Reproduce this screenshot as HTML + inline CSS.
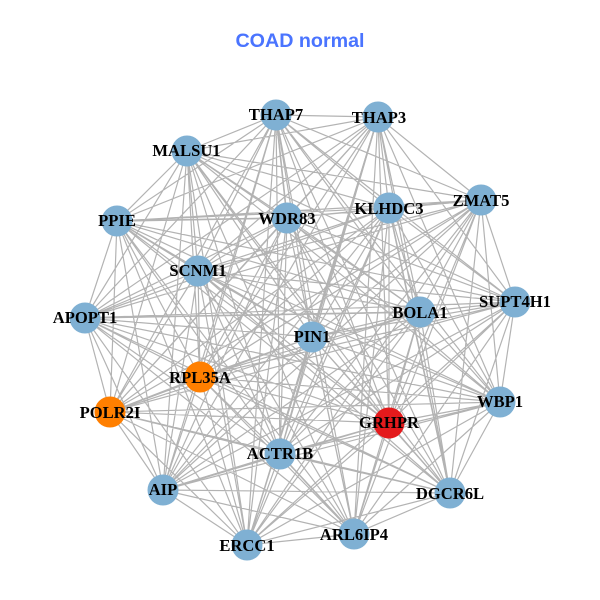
<!DOCTYPE html>
<html><head><meta charset="utf-8"><style>html,body{margin:0;padding:0;background:#fff}svg{display:block}text{font-family:"Liberation Serif",serif;font-weight:bold;font-size:16.6px;fill:#000;text-anchor:middle}</style></head><body>
<svg width="600" height="600" viewBox="0 0 600 600" xmlns="http://www.w3.org/2000/svg">
<rect width="600" height="600" fill="#fff"/>
<path fill="none" stroke="#b3b3b3" stroke-width="1.2" d="
M276 115L378 117M276 115L187 151M276 115L481 200M276 115L389 208M276 115L287 218M276 115L117 221M276 115L198 271M276 115L515 302M276 115L420 312M276 115L85 318M276 115L312 337M276 115L200 377M276 115L500 402M276 115L110 412M276 115L389 423M276 115L280 454M276 115L163 490M276 115L450 493M276 115L354 534M276 115L247 545
M378 117L187 151M378 117L481 200M378 117L389 208M378 117L287 218M378 117L117 221M378 117L198 271M378 117L515 302M378 117L420 312M378 117L85 318M378 117L312 337M378 117L200 377M378 117L500 402M378 117L110 412M378 117L389 423M378 117L280 454M378 117L163 490M378 117L450 493M378 117L354 534M378 117L247 545
M187 151L481 200M187 151L389 208M187 151L287 218M187 151L117 221M187 151L198 271M187 151L515 302M187 151L420 312M187 151L85 318M187 151L312 337M187 151L200 377M187 151L500 402M187 151L110 412M187 151L389 423M187 151L280 454M187 151L163 490M187 151L450 493M187 151L354 534M187 151L247 545
M481 200L389 208M481 200L287 218M481 200L117 221M481 200L198 271M481 200L515 302M481 200L420 312M481 200L85 318M481 200L312 337M481 200L200 377M481 200L500 402M481 200L110 412M481 200L389 423M481 200L280 454M481 200L163 490M481 200L450 493M481 200L354 534M481 200L247 545
M389 208L287 218M389 208L117 221M389 208L198 271M389 208L515 302M389 208L420 312M389 208L85 318M389 208L312 337M389 208L200 377M389 208L500 402M389 208L110 412M389 208L389 423M389 208L280 454M389 208L163 490M389 208L450 493M389 208L354 534M389 208L247 545
M287 218L117 221M287 218L198 271M287 218L515 302M287 218L420 312M287 218L85 318M287 218L312 337M287 218L200 377M287 218L500 402M287 218L110 412M287 218L389 423M287 218L280 454M287 218L163 490M287 218L450 493M287 218L354 534M287 218L247 545
M117 221L198 271M117 221L515 302M117 221L420 312M117 221L85 318M117 221L312 337M117 221L200 377M117 221L500 402M117 221L110 412M117 221L389 423M117 221L280 454M117 221L163 490M117 221L450 493M117 221L354 534M117 221L247 545
M198 271L515 302M198 271L420 312M198 271L85 318M198 271L312 337M198 271L200 377M198 271L500 402M198 271L110 412M198 271L389 423M198 271L280 454M198 271L163 490M198 271L450 493M198 271L354 534M198 271L247 545
M515 302L420 312M515 302L85 318M515 302L312 337M515 302L200 377M515 302L500 402M515 302L110 412M515 302L389 423M515 302L280 454M515 302L163 490M515 302L450 493M515 302L354 534M515 302L247 545
M420 312L85 318M420 312L312 337M420 312L200 377M420 312L500 402M420 312L110 412M420 312L389 423M420 312L280 454M420 312L163 490M420 312L450 493M420 312L354 534M420 312L247 545
M85 318L312 337M85 318L200 377M85 318L500 402M85 318L110 412M85 318L389 423M85 318L280 454M85 318L163 490M85 318L450 493M85 318L354 534M85 318L247 545
M312 337L200 377M312 337L500 402M312 337L110 412M312 337L389 423M312 337L280 454M312 337L163 490M312 337L450 493M312 337L354 534M312 337L247 545
M200 377L500 402M200 377L110 412M200 377L389 423M200 377L280 454M200 377L163 490M200 377L450 493M200 377L354 534M200 377L247 545
M500 402L110 412M500 402L389 423M500 402L280 454M500 402L163 490M500 402L450 493M500 402L354 534M500 402L247 545
M110 412L389 423M110 412L280 454M110 412L163 490M110 412L450 493M110 412L354 534M110 412L247 545
M389 423L280 454M389 423L163 490M389 423L450 493M389 423L354 534M389 423L247 545
M280 454L163 490M280 454L450 493M280 454L354 534M280 454L247 545
M163 490L450 493M163 490L354 534M163 490L247 545
M450 493L354 534M450 493L247 545
M354 534L247 545"/>
<path fill="none" stroke="#b3b3b3" stroke-width="1.6" d="M117 221L287 218M378 117L312 337M163 490L280 454M276 115L287 218M85 318L420 312M354 534L280 454M389 208L481 200M450 493L389 208"/>
<g fill="#7fb0d3">
<circle cx="276" cy="115" r="15.5"/><circle cx="378" cy="117" r="15.5"/><circle cx="187" cy="151" r="15.5"/><circle cx="481" cy="200" r="15.5"/><circle cx="389" cy="208" r="15.5"/><circle cx="287" cy="218" r="15.5"/><circle cx="117" cy="221" r="15.5"/><circle cx="198" cy="271" r="15.5"/><circle cx="515" cy="302" r="15.5"/><circle cx="420" cy="312" r="15.5"/><circle cx="85" cy="318" r="15.5"/><circle cx="312" cy="337" r="15.5"/><circle cx="500" cy="402" r="15.5"/><circle cx="280" cy="454" r="15.5"/><circle cx="163" cy="490" r="15.5"/><circle cx="450" cy="493" r="15.5"/><circle cx="354" cy="534" r="15.5"/><circle cx="247" cy="545" r="15.5"/>
</g>
<circle cx="200" cy="377" r="15.5" fill="#ff7f00"/><circle cx="110" cy="412" r="15.5" fill="#ff7f00"/><circle cx="389" cy="423" r="15.5" fill="#e41a1c"/>
<g>
<text x="276" y="120">THAP7</text><text x="379" y="123">THAP3</text><text x="186.500" y="156">MALSU1</text><text x="481" y="206">ZMAT5</text><text x="389" y="214">KLHDC3</text><text x="287" y="224">WDR83</text><text x="117" y="226">PPIE</text><text x="198" y="276">SCNM1</text><text x="515" y="307">SUPT4H1</text><text x="420" y="318">BOLA1</text><text x="85" y="323">APOPT1</text><text x="312" y="342">PIN1</text><text x="200" y="383">RPL35A</text><text x="500" y="407">WBP1</text><text x="110" y="418">POLR2I</text><text x="389" y="428">GRHPR</text><text x="280" y="459">ACTR1B</text><text x="163" y="495">AIP</text><text x="450" y="499">DGCR6L</text><text x="354" y="540">ARL6IP4</text><text x="247" y="551">ERCC1</text>
</g>
<text x="300" y="47" style="font-family:'Liberation Sans',sans-serif;font-size:19.7px;fill:#4a74ff">COAD normal</text>
</svg>
</body></html>
